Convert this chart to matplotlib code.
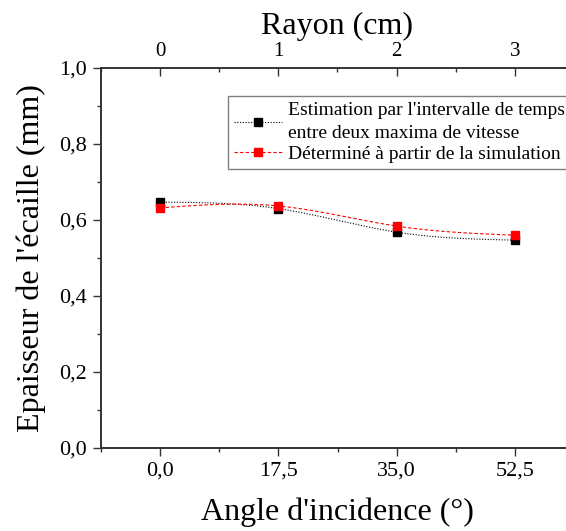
import numpy as np
import matplotlib
matplotlib.use("Agg")
import matplotlib.pyplot as plt
from matplotlib.ticker import FuncFormatter, MultipleLocator

plt.rcParams['font.family'] = ['Liberation Serif', 'DejaVu Serif']

angles = [0.0, 17.5, 35.0, 52.5]
estimation = [0.647, 0.630, 0.568, 0.547]
simulation = [0.632, 0.637, 0.584, 0.560]
rayon_ticks = [0, 1, 2, 3]

label_est = "Estimation par l'intervalle de temps\nentre deux maxima de vitesse"
label_sim = "Déterminé à partir de la simulation"


def natural_spline(x, y, n=200):
    x = np.asarray(x, float); y = np.asarray(y, float)
    m = len(x); h = np.diff(x)
    A = np.zeros((m, m)); b = np.zeros(m)
    A[0, 0] = A[-1, -1] = 1
    for i in range(1, m - 1):
        A[i, i - 1] = h[i - 1]; A[i, i] = 2 * (h[i - 1] + h[i]); A[i, i + 1] = h[i]
        b[i] = 3 * ((y[i + 1] - y[i]) / h[i] - (y[i] - y[i - 1]) / h[i - 1])
    c = np.linalg.solve(A, b)
    xs = np.linspace(x[0], x[-1], n); ys = np.empty_like(xs)
    for k, t in enumerate(xs):
        i = min(np.searchsorted(x, t, side='right') - 1, m - 2)
        d = t - x[i]
        bb = (y[i + 1] - y[i]) / h[i] - h[i] * (2 * c[i] + c[i + 1]) / 3
        dd = (c[i + 1] - c[i]) / (3 * h[i])
        ys[k] = y[i] + bb * d + c[i] * d ** 2 + dd * d ** 3
    return xs, ys


fig = plt.figure(figsize=(5.66, 5.31), dpi=100)
ax = fig.add_axes([101 / 566, 1 - 448 / 531, 473 / 566, 380 / 531])

xs, ys = natural_spline(angles, estimation)
ax.plot(xs, ys, color='black', lw=0.8, ls=(0, (1, 1.5)))
xs2, ys2 = natural_spline(angles, simulation)
ax.plot(xs2, ys2, color='red', lw=0.8, ls=(0, (3, 2)))
ax.plot(angles, estimation, 's', color='black', ms=5.5, ls='none')
ax.plot(angles, simulation, 's', color='red', ms=5.5, ls='none')

# legend proxies
h1, = ax.plot([], [], color='black', lw=0.8, ls=(0, (1, 1.5)), marker='s', ms=5.5)
h2, = ax.plot([], [], color='red', lw=0.8, ls=(0, (3, 2)), marker='s', ms=5.5)
leg = ax.legend([h1, h2], [label_est, label_sim], loc='upper left',
                bbox_to_anchor=(0.2685, 0.926), fontsize=14, frameon=True,
                fancybox=False, edgecolor='#808080', framealpha=1,
                handlelength=2.5, handletextpad=0.3, borderpad=0.3,
                labelspacing=0.2, borderaxespad=0)
for t in leg.get_texts():
    t.set_linespacing(1.45)
leg.get_frame().set_linewidth(1.0)

ax.set_xlim(-8.75, 61.25)
ax.set_ylim(0, 1.0)
ax.set_xticks(angles)
ax.xaxis.set_minor_locator(MultipleLocator(8.75))
ax.yaxis.set_major_locator(MultipleLocator(0.2))
ax.yaxis.set_minor_locator(MultipleLocator(0.1))
fmt = FuncFormatter(lambda v, p: f"{v:.1f}".replace('.', ','))
ax.xaxis.set_major_formatter(fmt)
ax.yaxis.set_major_formatter(fmt)
ax.tick_params(which='major', direction='out', length=6, width=1, labelsize=16, pad=4,
               colors='#333333', labelcolor='black')
ax.tick_params(which='minor', direction='out', length=3, width=1, colors='#333333')
for s in ax.spines.values():
    s.set_linewidth(1.2); s.set_color('#333333')
ax.spines['right'].set_visible(False)
ax.set_xlabel("Angle d'incidence (°)", fontsize=23, labelpad=12)
ax.set_ylabel("Epaisseur de l'écaille (mm)", fontsize=23, labelpad=9.5)

ax2 = ax.twiny()
ax2.set_xlim(-0.5, 3.5)
ax2.set_xticks(rayon_ticks)
ax2.set_xticklabels([str(r) for r in rayon_ticks])
ax2.xaxis.set_minor_locator(MultipleLocator(0.5))
ax2.tick_params(which='major', direction='in', length=6, width=1, labelsize=15, pad=5,
                colors='#333333', labelcolor='black')
ax2.tick_params(which='minor', direction='in', length=3, width=1, colors='#333333')
for s in ax2.spines.values():
    s.set_linewidth(1.2); s.set_color('#333333')
ax2.spines['right'].set_visible(False)
ax2.set_xlabel("Rayon (cm)", fontsize=23, labelpad=6)

fig.savefig('out.png', dpi=100)
